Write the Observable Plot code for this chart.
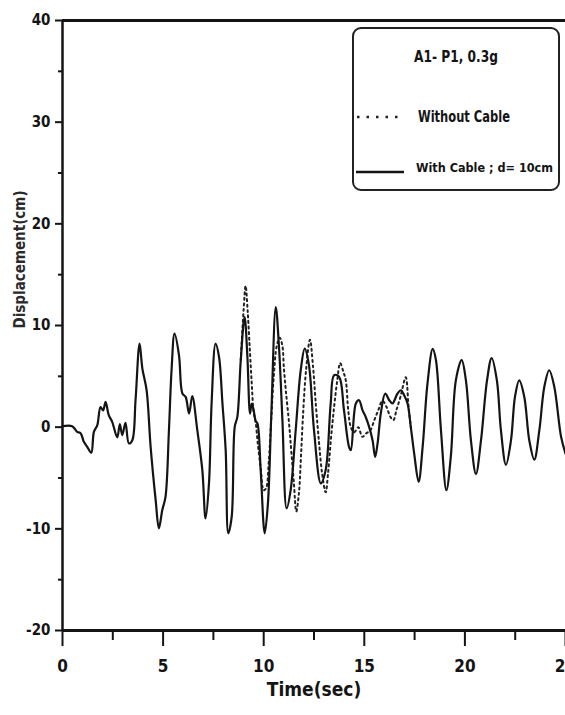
<!DOCTYPE html>
<html>
<head>
<meta charset="utf-8">
<script src="https://cdn.jsdelivr.net/npm/d3@7"></script>
<script src="https://cdn.jsdelivr.net/npm/@observablehq/plot@0.6"></script>
<style>
  html, body { margin: 0; padding: 0; background: #fff; }
  #chart { position: relative; width: 565px; height: 715px; overflow: hidden; }
</style>
</head>
<body>
<div id="chart"></div>
<script>
// ---- data ----
// "With Cable ; d= 10cm" (solid)
const solidT = [0, 0.48, 0.73, 0.9, 1.06, 1.23, 1.43, 1.56, 1.73, 1.89, 2.02, 2.14, 2.3, 2.47, 2.72, 2.85, 2.97, 3.13, 3.3, 3.47,
  3.63, 3.83, 3.97, 4.18, 4.38, 4.63, 4.79, 4.96, 5.12, 5.29, 5.42, 5.57, 5.79, 5.96, 6.12, 6.29, 6.45, 6.7, 6.95, 7.11,
  7.28, 7.41, 7.61, 7.78, 7.95, 8.11, 8.24, 8.41, 8.56, 8.69, 8.86, 9.05, 9.19, 9.32, 9.4, 9.5, 9.6, 9.69, 9.85, 10.05,
  10.21, 10.38, 10.6, 10.76, 10.93, 11.14, 11.34, 11.59, 11.84, 12.04, 12.25, 12.5, 12.84, 13.08, 13.33, 13.5, 13.75, 13.99, 14.24, 14.33,
  14.58, 14.74, 14.91, 15.07, 15.24, 15.41, 15.54, 15.66, 15.82, 16.04, 16.24, 16.4, 16.65, 16.82, 16.98, 17.15, 17.31, 17.48, 17.7, 17.9,
  18.14, 18.4, 18.56, 18.81, 19.08, 19.3, 19.55, 19.84, 20.05, 20.3, 20.55, 20.8, 21.1, 21.33, 21.59, 21.79, 22.04, 22.29, 22.49, 22.7,
  22.95, 23.2, 23.45, 23.7, 23.95, 24.19, 24.44, 24.78, 25];
const solidV = [0.1, 0.1, -0.46, -0.59, -1.44, -1.93, -2.52, -0.46, 0.2, 1.98, 1.65, 2.48, 1.18, 0.52, -1.01, 0.29, -0.79, 0.42, -1.6, -1.28,
  2.65, 8.22, 5.76, 3.63, -1.93, -7.17, -9.95, -8.15, -6.85, -0.3, 5.6, 9.2, 7.07, 3.31, 2.98, 1.34, 3.05, -0.3, -4.22, -8.97,
  -5.53, 2.33, 8.22, 6.9, 2.33, -2.26, -10.44, -8.81, 0.03, 1.01, 6.58, 10.83, 6.9, 1.34, 2.3, 1.67, 0.6, 0.36, -4.22, -10.44,
  -7.5, 1.34, 11.82, 7.89, 0.69, -7.99, -6.19, -0.3, 5.6, 7.73, 6.09, -0.3, -5.53, -4.22, 2.33, 5.11, 4.94, 1.67, -1.93, -2.26,
  2.33, 2.65, 1.67, 1.0, 0.03, -1.28, -2.92, -1.6, 1.34, 3.31, 2.65, 2.33, 3.31, 3.63, 3.14, 2.33, 0.03, -2.6, -5.37, -1.93,
  4.29, 7.7, 6.6, -0.3, -6.2, -2.9, 4.6, 6.6, 4.6, -1.3, -4.6, -1.3, 4.6, 6.8, 4.6, -0.3, -3.7, -1.3, 3.0, 4.6,
  3.0, -1.3, -3.2, -0.3, 4.0, 5.6, 4.0, -0.95, -2.6];

// "Without Cable" (dotted) — only where it departs from the solid curve
const dotT = [8.86, 9.0, 9.1, 9.2, 9.3, 9.4, 9.5, 9.6, 9.7, 9.85, 10.0, 10.12, 10.25, 10.38, 10.5, 10.65, 10.8, 10.93, 11.0, 11.1,
  11.26, 11.34, 11.5, 11.62, 11.75, 11.85, 11.95, 12.1, 12.3, 12.45, 12.6, 12.75, 12.9, 13.08, 13.2, 13.35, 13.5, 13.65, 13.8, 13.95,
  14.08, 14.2, 14.33, 14.5, 14.7, 14.9, 15.1, 15.3, 15.5, 15.7, 15.9, 16.1, 16.3, 16.45, 16.6, 16.8, 17.06, 17.2, 17.31];
const dotV = [6.58, 11.5, 13.9, 11.5, 8.0, 4.5, 1.5, 0.5, -1.5, -4.0, -6.2, -6.0, -3.5, 1.0, 5.0, 8.0, 8.8, 8.0, 5.9, 3.6,
  0.4, -1.6, -5.5, -8.3, -6.5, -3.0, 1.0, 5.5, 8.6, 6.0, 2.0, -1.5, -4.5, -6.4, -4.5, -1.0, 2.0, 4.5, 6.3, 5.5,
  4.6, 1.7, 0.0, -0.5, 0.0, -0.95, -0.6, -0.3, 0.7, 1.7, 2.6, 2.0, 1.0, 0.7, 1.7, 3.0, 4.9, 2.0, 0.03];

const xTicks = [0, 5, 10, 15, 20, 25];
const xMinorTicks = [2.5, 7.5, 12.5, 17.5, 22.5];
const yTicks = [-20, -10, 0, 10, 20, 30, 40];
const yMinorTicks = [-15, -5, 5, 15, 25, 35];
const legendTitle = "A1- P1, 0.3g";
const seriesNames = ["Without Cable", "With Cable ; d= 10cm"];
const xTitle = "Time(sec)";
const yTitle = "Displacement(cm)";

// ---- tables built from the arrays ----
const solid = solidT.map((t, i) => ({t, v: solidV[i]}));
const dotted = dotT.map((t, i) => ({t, v: dotV[i]}));

const FONT = "'Liberation Sans Narrow', 'Arial Narrow', 'DejaVu Sans Condensed', 'Liberation Sans', sans-serif";
const INK = "#141414";

const chart = Plot.plot({
  width: 565,
  height: 715,
  marginTop: 20,
  marginBottom: 85,
  marginLeft: 62,
  marginRight: 0,
  style: {fontFamily: FONT, fontWeight: "bold", background: "#fff", overflow: "visible", color: INK},
  x: {domain: [0, 25], label: null},
  y: {domain: [-20, 40], label: null},
  marks: [
    Plot.line(dotted, {x: "t", y: "v", stroke: "#222", strokeWidth: 2, strokeDasharray: "2,3.5", curve: "catmull-rom"}),
    Plot.line(solid, {x: "t", y: "v", stroke: INK, strokeWidth: 2.2, curve: "catmull-rom"}),
    Plot.axisY({ticks: yTicks, tickSize: 7, tickPadding: 5, tickFormat: d => String(d), fontSize: 15, strokeWidth: 2, label: null}),
    Plot.axisY({ticks: yMinorTicks, tickSize: 4, tickFormat: () => "", strokeWidth: 2, label: null}),
    Plot.axisX({ticks: xTicks, tickSize: 16, tickPadding: 13, tickFormat: d => String(d), fontSize: 17, strokeWidth: 2, label: null}),
    Plot.axisX({ticks: xMinorTicks, tickSize: 10, tickFormat: () => "", strokeWidth: 2, label: null}),
    Plot.ruleY([40], {stroke: INK, strokeWidth: 3}),
    Plot.ruleY([-20], {stroke: INK, strokeWidth: 3}),
    Plot.ruleX([0], {stroke: INK, strokeWidth: 2.5}),
    Plot.text([xTitle], {frameAnchor: "bottom", dy: 65, text: d => d, fontSize: 19, fill: INK, ariaLabel: "xtitle"}),
    Plot.text([yTitle], {frameAnchor: "left", dx: -42, dy: 3, rotate: -90, text: d => d, fontSize: 15, fill: "#2a2a2a", ariaLabel: "ytitle"})
  ]
});

document.getElementById("chart").appendChild(chart);

const svg = d3.select(chart);
svg.select('g[aria-label="ytitle"] text')
  .attr("textLength", 258)
  .attr("lengthAdjust", "spacing");

// legend box
const lg = svg.append("g")
  .attr("font-family", FONT).attr("font-weight", "bold").attr("fill", INK)
  .attr("text-anchor", "start");
lg.append("rect")
  .attr("x", 353).attr("y", 28).attr("width", 206).attr("height", 162).attr("rx", 8)
  .attr("fill", "#fff").attr("stroke", "#222").attr("stroke-width", 2);
lg.append("text").text(legendTitle)
  .attr("x", 456).attr("y", 57).attr("text-anchor", "middle").attr("dominant-baseline", "middle")
  .attr("font-size", 16).attr("textLength", 84).attr("lengthAdjust", "spacingAndGlyphs");
lg.append("line").attr("x1", 357).attr("x2", 404).attr("y1", 117).attr("y2", 117)
  .attr("stroke", "#222").attr("stroke-width", 2.5).attr("stroke-dasharray", "2.5,7");
lg.append("text").text(seriesNames[0])
  .attr("x", 418).attr("y", 117).attr("text-anchor", "start").attr("dominant-baseline", "middle")
  .attr("font-size", 15).attr("textLength", 92).attr("lengthAdjust", "spacingAndGlyphs");
lg.append("line").attr("x1", 356).attr("x2", 404).attr("y1", 172).attr("y2", 172)
  .attr("stroke", INK).attr("stroke-width", 2.5);
lg.append("text").text(seriesNames[1])
  .attr("x", 416).attr("y", 168).attr("text-anchor", "start").attr("dominant-baseline", "middle")
  .attr("font-size", 13).attr("textLength", 137).attr("lengthAdjust", "spacingAndGlyphs");
</script>
</body>
</html>
